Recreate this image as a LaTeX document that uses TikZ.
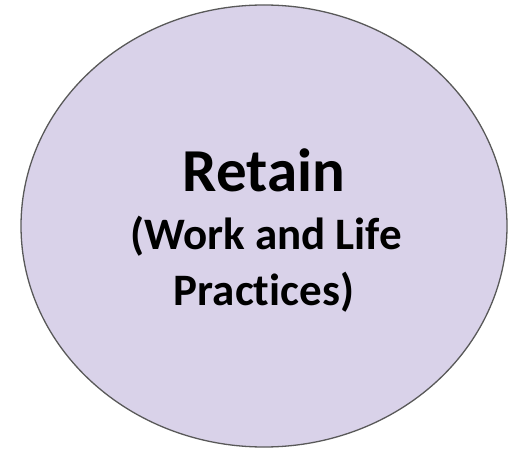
\documentclass[tikz,border=0pt]{standalone}
\usepackage{fontspec}
\setmainfont[Ligatures=NoCommon]{Carlito}
\usetikzlibrary{shapes.geometric}

\definecolor{lavender}{HTML}{D9D2E9}
\definecolor{rimgray}{HTML}{595959}

\tikzset{
	bubble/.style = {ellipse, draw = rimgray, fill = lavender, line width = 1.3pt,
		minimum width = 486pt, minimum height = 442pt, inner sep = 0pt},
	bigword/.style = {anchor = base, font = \fontsize{61}{73}\selectfont\bfseries, inner sep = 0pt},
	smallword/.style = {anchor = base, font = \fontsize{45}{55}\selectfont\bfseries, inner sep = 0pt}
}

\begin{document}
\begin{tikzpicture}[x = 1pt, y = 1pt]
		
		\useasboundingbox (0,0) rectangle (511,450);
		
		% the circle
		\node[bubble] (circ) at (264,224) {};
		
		% text lines
		\node[bigword] (title) at (264,258) {Retain};
		\node[smallword] (sub1) at (266,200) {(Work and Life};
		\node[smallword] (sub2) at (264,144) {Practices)};
		
	\end{tikzpicture}
\end{document}
